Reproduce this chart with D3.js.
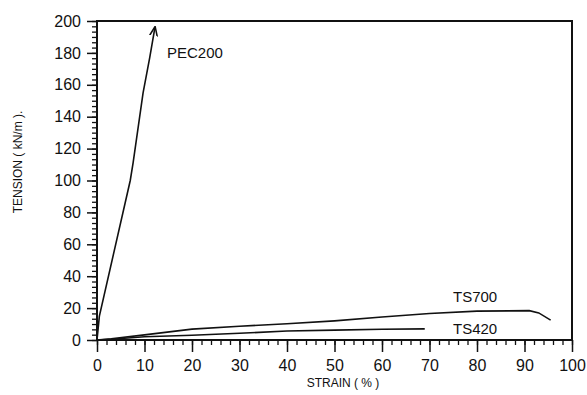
<!DOCTYPE html>
<html>
<head>
<meta charset="utf-8">
<script src="https://cdn.jsdelivr.net/npm/d3@7"></script>
<style>
  body { margin: 0; background: #fff; }
  svg { font-family: "Liberation Sans", Arial, sans-serif; }
  .tick text { fill: #111; }
</style>
</head>
<body>
<div id="chart"></div>
<script>
// data
var xTicks = [0, 10, 20, 30, 40, 50, 60, 70, 80, 90, 100];
var yTicks = [0, 20, 40, 60, 80, 100, 120, 140, 160, 180, 200];

var pec200Strain  = [0, 0.5, 7, 7.6, 9.7, 11.1, 12.2];
var pec200Tension = [0, 15, 100, 111, 155, 177, 196];

var ts700Strain  = [0, 3, 10, 20, 30, 40, 50, 60, 70, 80, 91, 93, 95.5];
var ts700Tension = [0, 0.8, 3.2, 6.8, 8.6, 10.2, 12, 14.4, 16.6, 18.1, 18.4, 17, 12.5];

var ts420Strain  = [0, 3, 10, 20, 30, 40, 50, 60, 69];
var ts420Tension = [0, 0.5, 2, 3, 4.2, 5.6, 6.2, 6.7, 7];

var curves = [
    {name: "PEC200", strain: pec200Strain, tension: pec200Tension, lx: 167, ly: 53, arrow: true},
    {name: "TS700", strain: ts700Strain, tension: ts700Tension, lx: 453, ly: 297},
    {name: "TS420", strain: ts420Strain, tension: ts420Tension, lx: 453, ly: 329}
];

var width = 587, height = 395;

var svg = d3.select('#chart').append('svg')
    .attr('width', width)
    .attr('height', height);

var x = d3.scaleLinear().domain([0, 100]).range([97, 572]);
var y = d3.scaleLinear().domain([0, 200]).range([340, 21]);

svg.append('defs').append('marker')
    .attr('id', 'arrow')
    .attr('viewBox', '0 0 10 10')
    .attr('refX', 9).attr('refY', 5)
    .attr('markerWidth', 6).attr('markerHeight', 6)
    .attr('orient', 'auto')
    .append('path')
    .attr('d', 'M0,1 L10,5 L0,9')
    .attr('fill', 'none')
    .attr('stroke', '#111')
    .attr('stroke-width', 1.6);

// minor ticks
svg.append('g')
    .attr('transform', 'translate(0,' + y(0) + ')')
    .call(d3.axisBottom(x).tickValues(d3.range(0, 101, 2)).tickSize(5).tickFormat('').tickSizeOuter(0))
    .call(g => g.select('.domain').remove())
    .selectAll('line').attr('stroke', '#111').attr('stroke-width', 1.3);

svg.append('g')
    .attr('transform', 'translate(' + x(0) + ',0)')
    .call(d3.axisLeft(y).tickValues(d3.range(0, 200.01, 20 / 6)).tickSize(5).tickFormat('').tickSizeOuter(0))
    .call(g => g.select('.domain').remove())
    .selectAll('line').attr('stroke', '#111').attr('stroke-width', 1.3);

// major ticks and labels
var xAxis = svg.append('g')
    .attr('transform', 'translate(0,' + y(0) + ')')
    .call(d3.axisBottom(x).tickValues(xTicks).tickSize(12).tickPadding(8).tickSizeOuter(0));
xAxis.select('.domain').remove();
xAxis.selectAll('line').attr('stroke', '#111').attr('stroke-width', 1.5);
xAxis.selectAll('text').style('font-size', '16px');

var yAxis = svg.append('g')
    .attr('transform', 'translate(' + x(0) + ',0)')
    .call(d3.axisLeft(y).tickValues(yTicks).tickSize(10).tickPadding(6).tickSizeOuter(0));
yAxis.select('.domain').remove();
yAxis.selectAll('line').attr('stroke', '#111').attr('stroke-width', 1.5);
yAxis.selectAll('text').style('font-size', '16px');

// frame
svg.append('rect')
    .attr('x', x(0)).attr('y', y(200))
    .attr('width', x(100) - x(0)).attr('height', y(0) - y(200))
    .attr('fill', 'none')
    .attr('stroke', '#111')
    .attr('stroke-width', 2);

var line = d3.line()
    .x(d => x(d[0]))
    .y(d => y(d[1]));

curves.forEach(function(c) {
    svg.append('path')
        .datum(d3.zip(c.strain, c.tension))
        .attr('d', line)
        .attr('fill', 'none')
        .attr('stroke', '#111')
        .attr('stroke-width', 1.6)
        .attr('marker-end', c.arrow ? 'url(#arrow)' : null);

    svg.append('text')
        .attr('x', c.lx).attr('y', c.ly)
        .attr('dy', '0.35em')
        .style('font-size', '15px')
        .attr('fill', '#111')
        .text(c.name);
});

// axis titles
svg.append('text')
    .attr('x', 343).attr('y', 383)
    .attr('text-anchor', 'middle')
    .attr('dy', '0.35em')
    .style('font-size', '12px')
    .attr('fill', '#111')
    .text('STRAIN ( % )');

svg.append('text')
    .attr('transform', 'translate(18,162) rotate(-90)')
    .attr('text-anchor', 'middle')
    .attr('dy', '0.35em')
    .style('font-size', '12px')
    .attr('fill', '#111')
    .text('TENSION ( kN/m ).');
</script>
</body>
</html>
